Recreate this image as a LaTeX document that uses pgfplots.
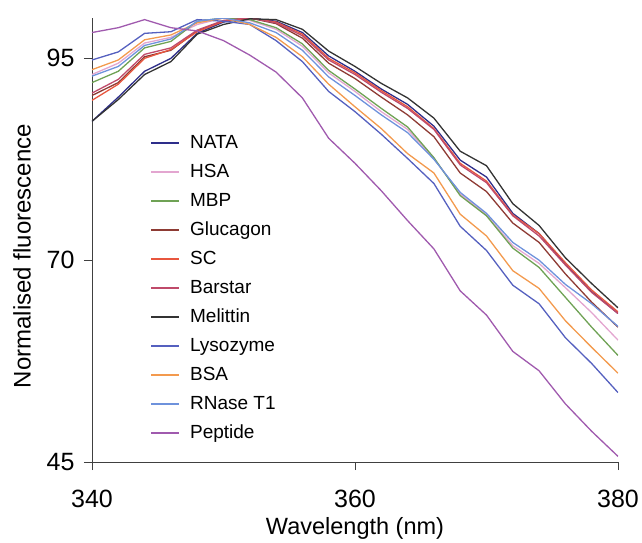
\documentclass[border=0pt]{standalone}
\usepackage{pgfplots}
\pgfplotsset{compat=1.18}
\usepackage{fontspec}
\setmainfont{Liberation Sans}
\definecolor{cnata}{HTML}{2E2E8A}
\definecolor{chsa}{HTML}{E3A6D0}
\definecolor{cmbp}{HTML}{6FA255}
\definecolor{cgluc}{HTML}{8E3B34}
\definecolor{csc}{HTML}{E8563E}
\definecolor{cbar}{HTML}{BF4A6A}
\definecolor{cmel}{HTML}{333333}
\definecolor{clys}{HTML}{5560BF}
\definecolor{cbsa}{HTML}{F39A4E}
\definecolor{crna}{HTML}{6E92DC}
\definecolor{cpep}{HTML}{A05AAE}

\begin{document}
\begin{tikzpicture}
\path[use as bounding box] (-92pt,-80pt) rectangle (550pt,462pt);
\begin{axis}[
  scale only axis, width=526pt, height=444pt,
  xmin=340, xmax=380, ymin=45, ymax=100,
  xtick={340,360,380}, ytick={45,70,95},
  axis x line=bottom, axis y line=left,
  axis line style={-, draw=black!75, line width=0.9pt},
  tick style={draw=black!75, line width=0.9pt},
  tick align=outside, major tick length=8pt,
  /pgf/number format/assume math mode=true,
  /pgf/number format/1000 sep={},
  ticklabel style={font=\fontsize{25}{25}\selectfont},
  xticklabel style={yshift=-17pt},
  yticklabel style={xshift=-6pt},
  xlabel={Wavelength (nm)},
  ylabel={Normalised fluorescence},
  xlabel style={font=\fontsize{23.5}{23.5}\selectfont, at={(axis description cs:0.5,-0.149)}, anchor=center},
  ylabel style={font=\fontsize{24}{24}\selectfont, at={(axis description cs:-0.133,0.464)}, anchor=center},
  every axis plot/.append style={line width=1.3pt},
  legend style={draw=none, fill=none, at={(axis description cs:0.105,0.742)}, anchor=north west,
    font=\fontsize{19}{19}\selectfont, row sep=12.5pt, column sep=10pt,
    nodes={inner sep=0pt, text height=13.5pt, text depth=3pt}},
  legend cell align=left,
  legend image code/.code={\draw[#1, line width=1.7pt] (0pt,0pt) -- (28pt,0pt);},
]
\addplot[cnata] coordinates {(340,87.2)(342,90.2)(344,93.4)(346,95.0)(348,98.1)(350,99.5)(352,100)(354,99.6)(356,98.2)(358,95.3)(360,93.4)(362,91.2)(364,89.3)(366,86.6)(368,82.4)(370,80.3)(372,75.8)(374,73.3)(376,69.5)(378,66.1)(380,63.4)};
\addplot[chsa] coordinates {(340,93.0)(342,94.4)(344,96.9)(346,97.6)(348,99.2)(350,100)(352,99.7)(354,98.6)(356,96.5)(358,93.2)(360,90.9)(362,88.4)(364,86.2)(366,82.6)(368,78.2)(370,75.6)(372,71.8)(374,69.6)(376,66.6)(378,63.5)(380,60.1)};
\addplot[cmbp] coordinates {(340,92.0)(342,93.4)(344,96.3)(346,97.1)(348,99.6)(350,100)(352,99.8)(354,98.8)(356,96.8)(358,93.5)(360,91.2)(362,88.8)(364,86.5)(366,82.7)(368,78.0)(370,75.5)(372,71.5)(374,69.1)(376,65.4)(378,61.7)(380,58.2)};
\addplot[cgluc] coordinates {(340,90.4)(342,92.0)(344,95.2)(346,96.0)(348,98.4)(350,99.6)(352,100)(354,99.3)(356,97.5)(358,94.4)(360,92.5)(362,90.2)(364,88.0)(366,85.3)(368,80.8)(370,78.5)(372,74.6)(374,72.2)(376,68.3)(378,64.8)(380,61.7)};
\addplot[csc] coordinates {(340,89.8)(342,91.8)(344,95.0)(346,96.1)(348,98.3)(350,99.6)(352,100)(354,99.5)(356,98.0)(358,95.0)(360,93.2)(362,91.0)(364,89.0)(366,86.3)(368,82.0)(370,79.8)(372,75.6)(374,73.3)(376,69.7)(378,66.3)(380,63.6)};
\addplot[cbar] coordinates {(340,90.7)(342,92.4)(344,95.5)(346,96.3)(348,98.5)(350,99.7)(352,100)(354,99.4)(356,97.8)(358,94.8)(360,93.0)(362,90.8)(364,88.8)(366,86.2)(368,81.8)(370,79.6)(372,75.5)(374,73.0)(376,69.4)(378,66.0)(380,63.4)};
\addplot[cmel] coordinates {(340,87.2)(342,89.9)(344,93.0)(346,94.6)(348,98.0)(350,99.2)(352,99.9)(354,99.8)(356,98.6)(358,95.9)(360,94.0)(362,91.9)(364,90.1)(366,87.6)(368,83.5)(370,81.7)(372,77.0)(374,74.3)(376,70.3)(378,67.1)(380,64.1)};
\addplot[clys] coordinates {(340,94.8)(342,95.8)(344,98.1)(346,98.3)(348,99.8)(350,99.6)(352,99.2)(354,97.2)(356,94.6)(358,90.9)(360,88.4)(362,85.6)(364,82.6)(366,79.5)(368,74.2)(370,71.2)(372,66.9)(374,64.6)(376,60.4)(378,57.2)(380,53.6)};
\addplot[cbsa] coordinates {(340,93.6)(342,94.8)(344,97.3)(346,97.9)(348,99.4)(350,100)(352,99.2)(354,97.6)(356,95.2)(358,91.8)(360,89.0)(362,86.3)(364,83.2)(366,80.8)(368,75.7)(370,73.0)(372,68.7)(374,66.5)(376,62.5)(378,59.2)(380,56.0)};
\addplot[crna] coordinates {(340,92.8)(342,94.0)(344,96.6)(346,97.4)(348,99.6)(350,100)(352,99.4)(354,98.2)(356,96.0)(358,92.7)(360,90.4)(362,88.0)(364,85.8)(366,82.5)(368,78.4)(370,75.8)(372,72.2)(374,70.0)(376,67.0)(378,64.6)(380,61.8)};
\addplot[cpep] coordinates {(340,98.2)(342,98.8)(344,99.8)(346,98.8)(348,98.4)(350,97.2)(352,95.4)(354,93.3)(356,90.1)(358,85.1)(360,82.0)(362,78.6)(364,74.9)(366,71.4)(368,66.2)(370,63.2)(372,58.7)(374,56.3)(376,52.2)(378,48.8)(380,45.7)};
\legend{NATA,HSA,MBP,Glucagon,SC,Barstar,Melittin,Lysozyme,BSA,RNase T1,Peptide}
\end{axis}
\end{tikzpicture}
\end{document}
